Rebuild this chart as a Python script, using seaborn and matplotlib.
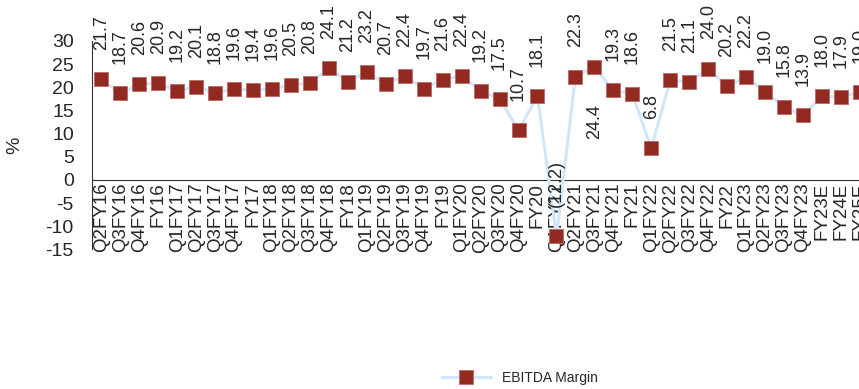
import matplotlib
matplotlib.use("Agg")
import matplotlib.pyplot as plt
import seaborn as sns
import numpy as np

# data
periods = ["Q2FY16", "Q3FY16", "Q4FY16", "FY16", "Q1FY17", "Q2FY17", "Q3FY17", "Q4FY17", "FY17",
           "Q1FY18", "Q2FY18", "Q3FY18", "Q4FY18", "FY18", "Q1FY19", "Q2FY19", "Q3FY19", "Q4FY19", "FY19",
           "Q1FY20", "Q2FY20", "Q3FY20", "Q4FY20", "FY20", "Q1FY21", "Q2FY21", "Q3FY21", "Q4FY21", "FY21",
           "Q1FY22", "Q2FY22", "Q3FY22", "Q4FY22", "FY22", "Q1FY23", "Q2FY23", "Q3FY23", "Q4FY23",
           "FY23E", "FY24E", "FY25E"]
ebitda_margin = [21.7, 18.7, 20.6, 20.9, 19.2, 20.1, 18.8, 19.6, 19.4,
                 19.6, 20.5, 20.8, 24.1, 21.2, 23.2, 20.7, 22.4, 19.7, 21.6,
                 22.4, 19.2, 17.5, 10.7, 18.1, -12.2, 22.3, 24.4, 19.3, 18.6,
                 6.8, 21.5, 21.1, 24.0, 20.2, 22.2, 19.0, 15.8, 13.9,
                 18.0, 17.9, 19.0]
label_below = ["Q3FY21"]

sns.set_style("white")
plt.rcParams['font.family'] = ['Liberation Sans', 'DejaVu Sans']
plt.rcParams['axes.unicode_minus'] = False

line_color = "#cfe6fb"
marker_color = "#922a22"

fig = plt.figure(figsize=(8.59, 3.89), dpi=100)
ax = fig.add_axes([0.107, 0.359, 0.905, 0.536])

x = np.arange(len(periods))
sns.lineplot(x=x, y=ebitda_margin, ax=ax, color=line_color, linewidth=2.2,
             marker="s", markersize=10, markerfacecolor=marker_color,
             markeredgecolor="#b86a64", markeredgewidth=0.6,
             label="EBITDA Margin", clip_on=False, zorder=3)

# value labels
for xi, v, p in zip(x, ebitda_margin, periods):
    txt = f"({abs(v):.1f})" if v < 0 else f"{v:.1f}"
    if p in label_below:
        ax.annotate(txt, (xi, v), xytext=(0, -27), textcoords="offset points",
                    rotation=90, ha="center", va="top", fontsize=13, annotation_clip=False)
    else:
        ax.annotate(txt, (xi, v), xytext=(0, 21), textcoords="offset points",
                    rotation=90, ha="center", va="bottom", fontsize=13, annotation_clip=False)

ax.set_xlim(-0.5, len(periods) - 0.5)
ax.set_ylim(-15, 30)
ax.set_yticks(range(-15, 31, 5))
ax.set_xticks(x)
ax.set_xticks(np.arange(-0.5, len(periods), 1), minor=True)
ax.set_xticklabels(periods)
ax.tick_params(axis="x", which="major", length=0, pad=2, labelsize=13.5, labelrotation=90)
ax.tick_params(axis="x", which="minor", length=5, direction="out", width=0.8, color="#333333")
ax.tick_params(axis="y", length=5, direction="out", width=0.8, color="#333333", labelsize=14, pad=8)
for lab in ax.get_xticklabels():
    lab.set_verticalalignment("top")

ax.spines["top"].set_visible(False)
ax.spines["right"].set_visible(False)
ax.spines["bottom"].set_position(("data", 0))
ax.spines["bottom"].set_color("#333333")
ax.spines["left"].set_color("#333333")
ax.spines["bottom"].set_linewidth(0.8)
ax.spines["left"].set_linewidth(0.8)

ax.set_ylabel("%", fontsize=14, labelpad=16)
ax.set_xlabel("")
ax.grid(False)

ax.legend(loc="center", bbox_to_anchor=(0.605, 0.028), bbox_transform=fig.transFigure,
          frameon=False, fontsize=10, handlelength=3.5)

plt.savefig("out.png", dpi=100)
